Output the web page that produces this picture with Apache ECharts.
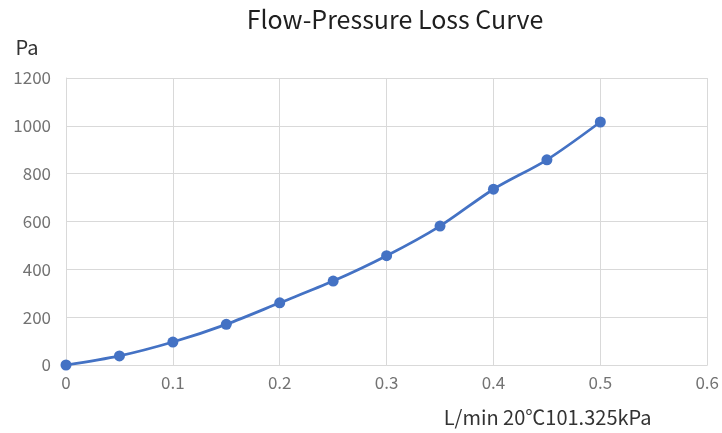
<!DOCTYPE html>
<html>
<head>
<meta charset="utf-8">
<script src="https://cdn.jsdelivr.net/npm/echarts@6/dist/echarts.min.js"></script>
<style>
  html, body { margin: 0; padding: 0; background: #fff; }
  #chart { width: 722px; height: 433px; }
</style>
</head>
<body>
<div id="chart"></div>
<script>
// 流量 (L/min) 与压力损失 (Pa)
const flowValues = [0, 0.05, 0.1, 0.15, 0.2, 0.25, 0.3, 0.35, 0.4, 0.45, 0.5];
const pressureValues = [0, 38, 96, 170, 260, 351, 457, 581, 735, 858, 1016];

const titleText = 'Flow-Pressure Loss Curve';
const xAxisName = 'L/min 20℃101.325kPa';
const yAxisName = 'Pa';

const fontFamily = '"Noto Sans CJK SC", "Noto Sans", sans-serif';
const lineColor = '#4472c4';
const gridColor = '#d9d9d9';
const labelColor = '#737373';

const chart = echarts.init(document.getElementById('chart'));

const option = {
  animation: false,
  title: {
    text: titleText,
    left: 390,
    top: 2,
    textAlign: 'center',
    textStyle: {
      fontFamily,
      fontSize: 25,
      fontWeight: 'normal',
      color: '#1f1f1f',
    },
  },
  grid: {
    left: 66,
    right: 14,
    top: 78,
    bottom: 68,
  },
  xAxis: {
    type: 'value',
    min: 0,
    max: 0.6,
    interval: 0.1,
    name: xAxisName,
    nameLocation: 'middle',
    nameGap: 42,
    nameTextStyle: {
      fontFamily,
      fontSize: 20,
      color: '#333',
      padding: [0, 0, 0, 322],
    },
    axisLine: { show: true, lineStyle: { color: gridColor, width: 1 } },
    axisTick: { show: false },
    axisLabel: {
      color: labelColor,
      fontFamily,
      fontSize: 17,
      margin: 9,
    },
    splitLine: { show: true, lineStyle: { color: gridColor, width: 1 } },
  },
  yAxis: {
    type: 'value',
    min: 0,
    max: 1200,
    interval: 200,
    name: yAxisName,
    nameLocation: 'end',
    nameGap: 21,
    nameTextStyle: {
      fontFamily,
      fontSize: 20,
      color: '#333',
      align: 'center',
      padding: [0, 78, 0, 0],
    },
    axisLine: { show: true, lineStyle: { color: gridColor, width: 1 } },
    axisTick: { show: false },
    axisLabel: {
      color: labelColor,
      fontFamily,
      fontSize: 17,
      margin: 15,
      formatter: (v) => String(v),
    },
    splitLine: { show: true, lineStyle: { color: gridColor, width: 1 } },
  },
  series: [
    {
      type: 'line',
      data: flowValues.map((x, i) => [x, pressureValues[i]]),
      smooth: 0.3,
      symbol: 'circle',
      symbolSize: 11,
      lineStyle: { color: lineColor, width: 2.75 },
      itemStyle: { color: lineColor },
    },
  ],
};

chart.setOption(option);
</script>
</body>
</html>
